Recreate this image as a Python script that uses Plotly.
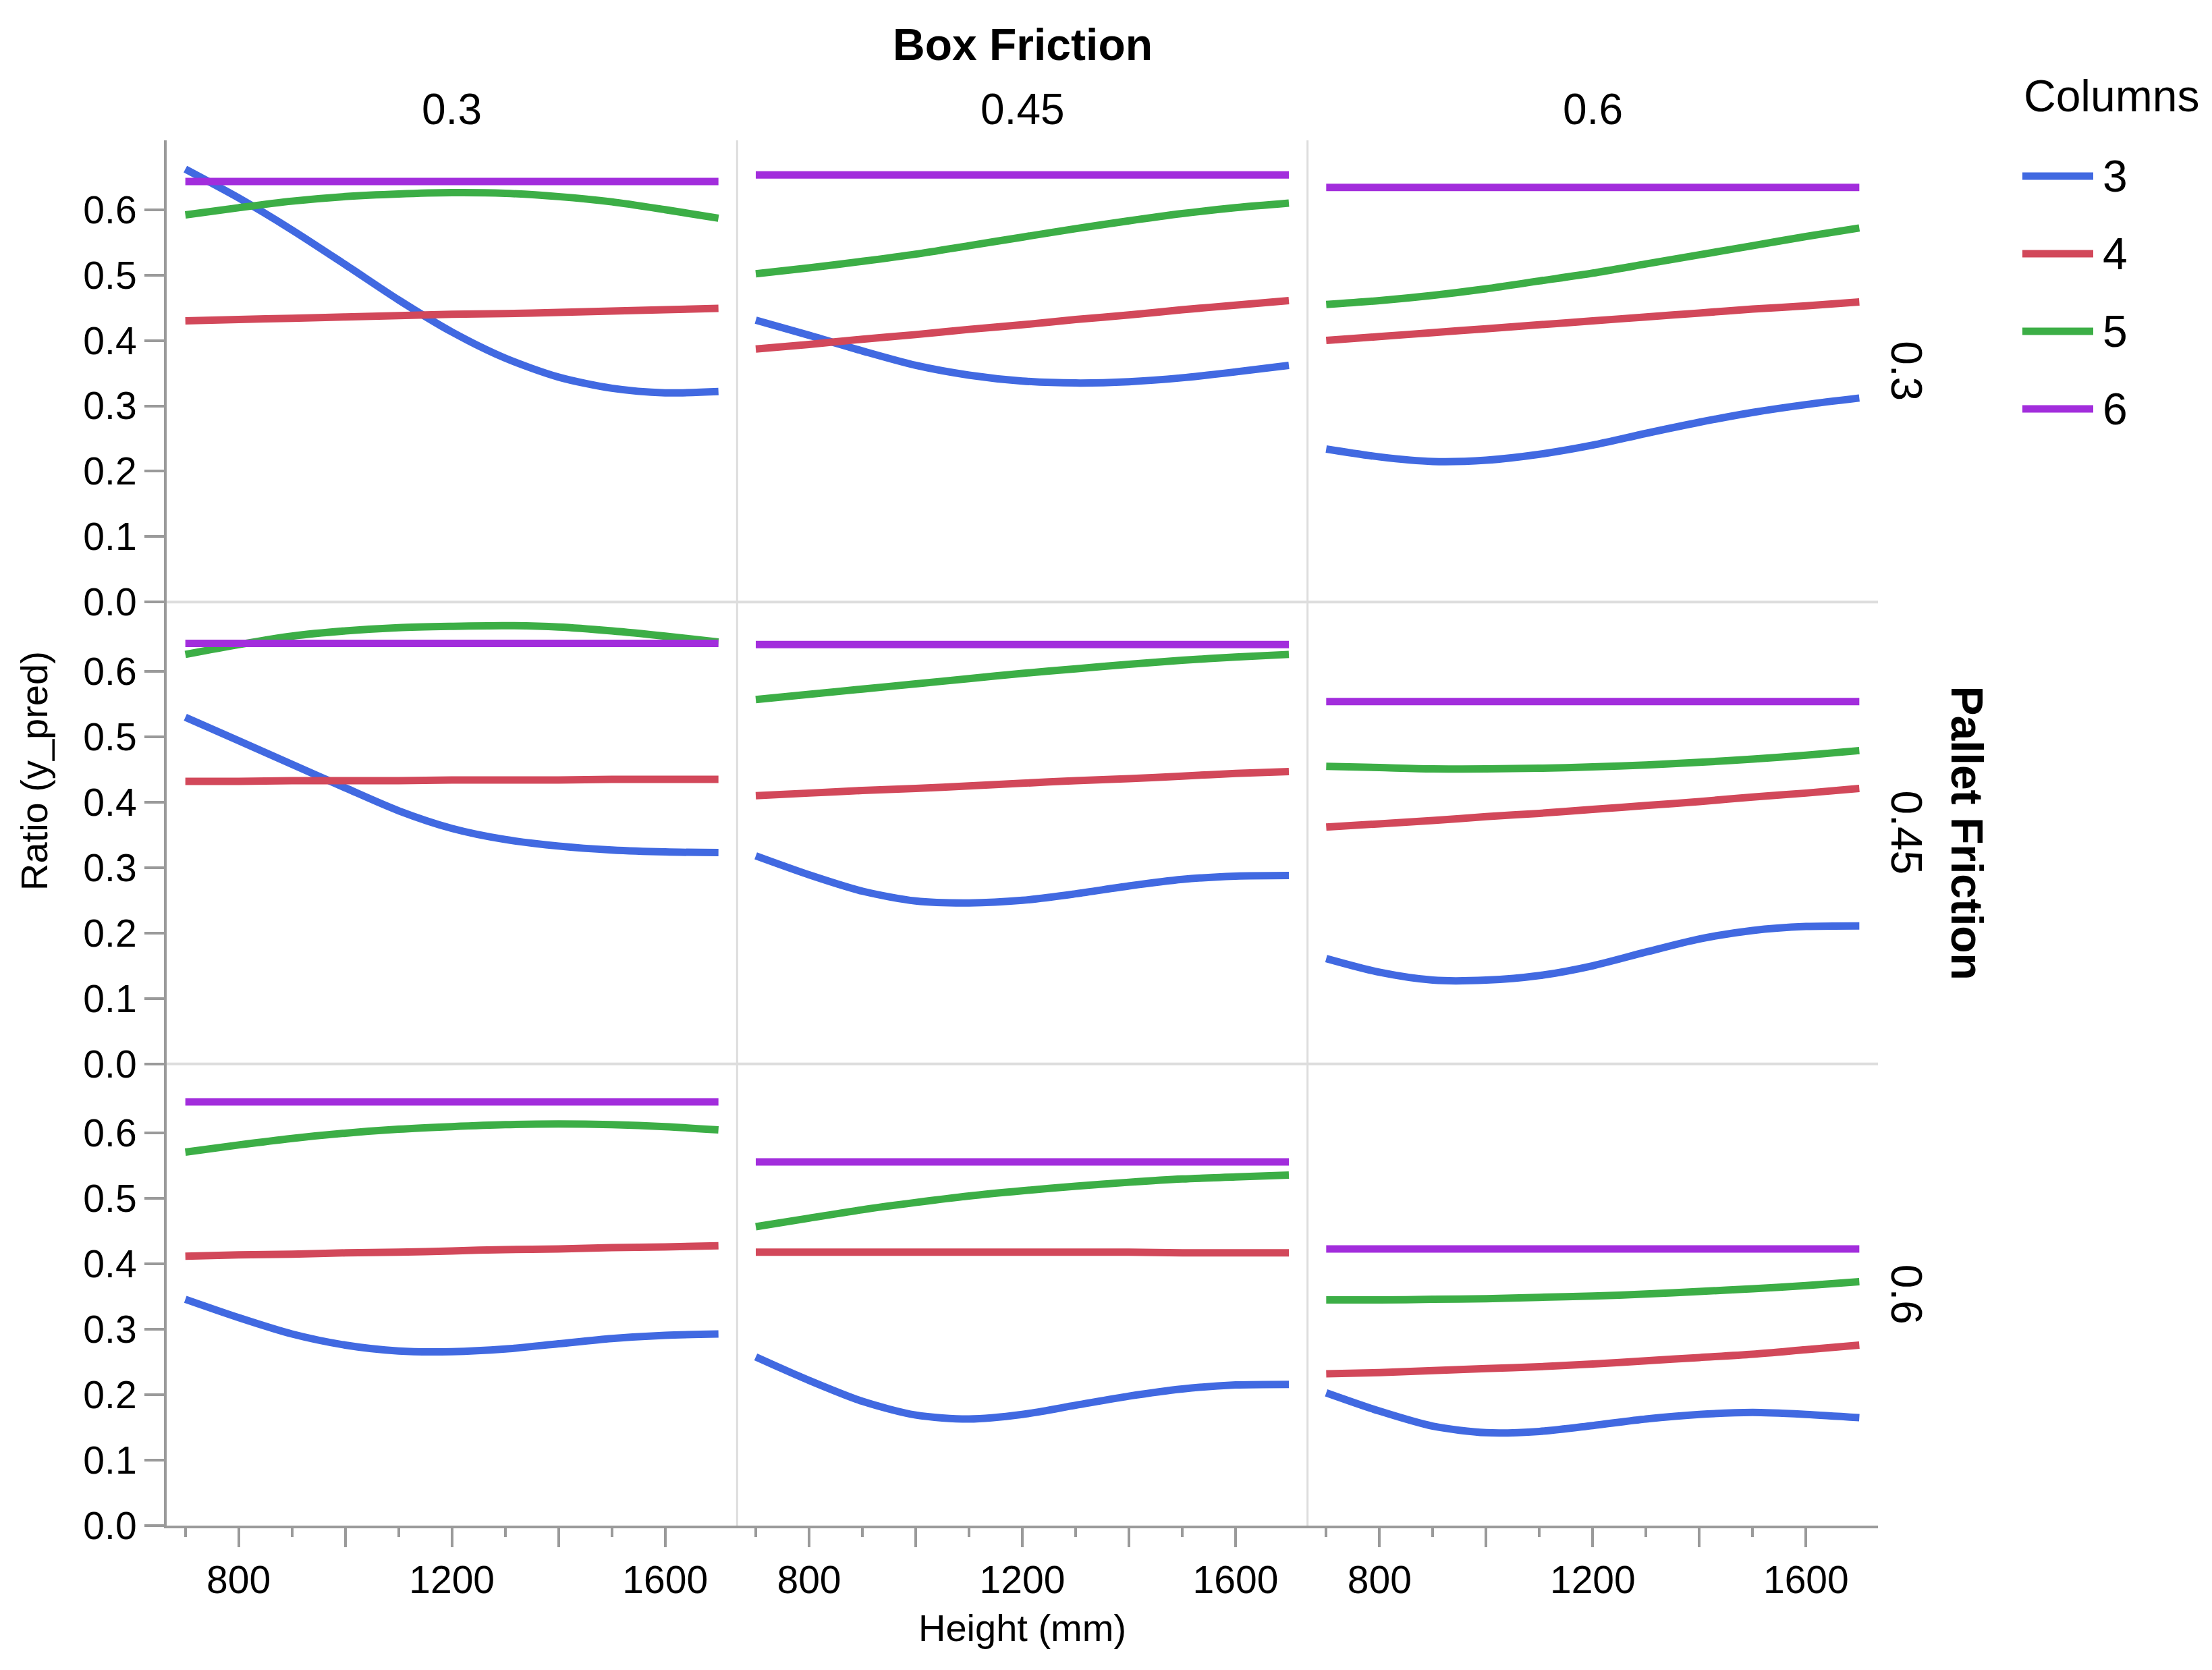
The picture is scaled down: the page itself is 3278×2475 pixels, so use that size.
import plotly.graph_objects as go

# ---------------- data ----------------
heights = [700, 800, 900, 1000, 1100, 1200, 1300, 1400, 1500, 1600, 1700]
box_levels = ["0.3", "0.45", "0.6"]
pallet_levels = ["0.3", "0.45", "0.6"]
column_names = ["3", "4", "5", "6"]
column_colors = ["#4169e1", "#d2485a", "#3cae46", "#a22ddc"]

# Pallet 0.3
p03_b03 = {
    "3": [0.662, 0.618, 0.569, 0.516, 0.462, 0.413, 0.373, 0.344, 0.327, 0.320, 0.322],
    "4": [0.430, 0.432, 0.434, 0.436, 0.438, 0.440, 0.441, 0.443, 0.445, 0.447, 0.449],
    "5": [0.592, 0.603, 0.613, 0.620, 0.624, 0.626, 0.625, 0.620, 0.612, 0.600, 0.587],
    "6": [0.643, 0.643, 0.643, 0.643, 0.643, 0.643, 0.643, 0.643, 0.643, 0.643, 0.643],
}
p03_b045 = {
    "3": [0.431, 0.408, 0.384, 0.362, 0.347, 0.338, 0.335, 0.337, 0.343, 0.352, 0.362],
    "4": [0.387, 0.394, 0.402, 0.409, 0.417, 0.424, 0.432, 0.439, 0.447, 0.454, 0.461],
    "5": [0.502, 0.511, 0.521, 0.532, 0.545, 0.558, 0.571, 0.583, 0.594, 0.603, 0.610],
    "6": [0.653, 0.653, 0.653, 0.653, 0.653, 0.653, 0.653, 0.653, 0.653, 0.653, 0.653],
}
p03_b06 = {
    "3": [0.234, 0.222, 0.215, 0.217, 0.226, 0.240, 0.258, 0.275, 0.290, 0.302, 0.312],
    "4": [0.400, 0.406, 0.412, 0.418, 0.424, 0.430, 0.436, 0.442, 0.448, 0.453, 0.459],
    "5": [0.455, 0.461, 0.469, 0.479, 0.491, 0.503, 0.517, 0.531, 0.545, 0.559, 0.572],
    "6": [0.634, 0.634, 0.634, 0.634, 0.634, 0.634, 0.634, 0.634, 0.634, 0.634, 0.634],
}
# Pallet 0.45
p045_b03 = {
    "3": [0.530, 0.494, 0.458, 0.422, 0.387, 0.360, 0.343, 0.333, 0.327, 0.324, 0.323],
    "4": [0.432, 0.432, 0.433, 0.433, 0.433, 0.434, 0.434, 0.434, 0.435, 0.435, 0.435],
    "5": [0.626, 0.641, 0.654, 0.662, 0.667, 0.669, 0.670, 0.668, 0.662, 0.654, 0.645],
    "6": [0.643, 0.643, 0.643, 0.643, 0.643, 0.643, 0.643, 0.643, 0.643, 0.643, 0.643],
}
p045_b045 = {
    "3": [0.318, 0.289, 0.264, 0.249, 0.246, 0.250, 0.260, 0.272, 0.282, 0.287, 0.288],
    "4": [0.410, 0.414, 0.418, 0.421, 0.425, 0.429, 0.433, 0.436, 0.440, 0.444, 0.447],
    "5": [0.557, 0.565, 0.573, 0.581, 0.589, 0.597, 0.604, 0.611, 0.617, 0.622, 0.626],
    "6": [0.641, 0.641, 0.641, 0.641, 0.641, 0.641, 0.641, 0.641, 0.641, 0.641, 0.641],
}
p045_b06 = {
    "3": [0.161, 0.140, 0.128, 0.128, 0.135, 0.150, 0.171, 0.191, 0.204, 0.210, 0.211],
    "4": [0.362, 0.367, 0.372, 0.378, 0.383, 0.389, 0.395, 0.401, 0.408, 0.414, 0.421],
    "5": [0.455, 0.453, 0.451, 0.451, 0.452, 0.454, 0.457, 0.461, 0.466, 0.472, 0.479],
    "6": [0.554, 0.554, 0.554, 0.554, 0.554, 0.554, 0.554, 0.554, 0.554, 0.554, 0.554],
}
# Pallet 0.6
p06_b03 = {
    "3": [0.346, 0.318, 0.293, 0.276, 0.267, 0.266, 0.270, 0.278, 0.286, 0.291, 0.293],
    "4": [0.412, 0.414, 0.415, 0.417, 0.418, 0.420, 0.422, 0.423, 0.425, 0.426, 0.428],
    "5": [0.571, 0.582, 0.592, 0.600, 0.606, 0.610, 0.613, 0.614, 0.613, 0.610, 0.605],
    "6": [0.648, 0.648, 0.648, 0.648, 0.648, 0.648, 0.648, 0.648, 0.648, 0.648, 0.648],
}
p06_b045 = {
    "3": [0.258, 0.222, 0.190, 0.169, 0.163, 0.170, 0.184, 0.198, 0.209, 0.215, 0.216],
    "4": [0.418, 0.418, 0.418, 0.418, 0.418, 0.418, 0.418, 0.418, 0.417, 0.417, 0.417],
    "5": [0.457, 0.470, 0.483, 0.494, 0.504, 0.512, 0.519, 0.525, 0.530, 0.533, 0.536],
    "6": [0.556, 0.556, 0.556, 0.556, 0.556, 0.556, 0.556, 0.556, 0.556, 0.556, 0.556],
}
p06_b06 = {
    "3": [0.203, 0.175, 0.152, 0.142, 0.144, 0.153, 0.163, 0.170, 0.173, 0.170, 0.165],
    "4": [0.232, 0.234, 0.237, 0.240, 0.243, 0.247, 0.252, 0.257, 0.262, 0.269, 0.276],
    "5": [0.345, 0.345, 0.346, 0.347, 0.349, 0.351, 0.354, 0.358, 0.362, 0.367, 0.373],
    "6": [0.423, 0.423, 0.423, 0.423, 0.423, 0.423, 0.423, 0.423, 0.423, 0.423, 0.423],
}

panels = [
    [p03_b03, p03_b045, p03_b06],
    [p045_b03, p045_b045, p045_b06],
    [p06_b03, p06_b045, p06_b06],
]

y_ticks = [0.0, 0.1, 0.2, 0.3, 0.4, 0.5, 0.6]
y_ticktext = ["0.0", "0.1", "0.2", "0.3", "0.4", "0.5", "0.6"]
x_major = [800, 1000, 1200, 1400, 1600]
x_major_text = ["800", "", "1200", "", "1600"]
x_minor = [700, 900, 1100, 1300, 1500]

# ---------------- layout geometry ----------------
# The page body has an 8px default margin, so the figure is offset by OFF px.
OFF = 8
W, H = 3278 - OFF, 2475 - OFF
ML, MR, MT, MB = 247 - OFF, 495, 208 - OFF, 214
PW = W - ML - MR
PH = H - MT - MB
FONT = "Liberation Sans, Arial, Helvetica, sans-serif"
AXIS_GREY = "#9a9a9a"
SEP_GREY = "#dddddd"
LINE_W = 11


def px(xpage):
    return (xpage - OFF - ML) / PW


def py(ypage):
    return (H - MB - (ypage - OFF)) / PH


fig = go.Figure()

for r in range(3):
    for c in range(3):
        idx = r * 3 + c + 1
        xname = "x" if idx == 1 else f"x{idx}"
        yname = "y" if idx == 1 else f"y{idx}"
        data = panels[r][c]
        for name, color in zip(column_names, column_colors):
            fig.add_trace(go.Scatter(
                x=heights, y=data[name], mode="lines", name=name,
                legendgroup=name, showlegend=False,
                line=dict(color=color, width=LINE_W, shape="spline", smoothing=0.8),
                xaxis=xname, yaxis=yname, hoverinfo="skip",
            ))
        xa = dict(
            domain=[c / 3, (c + 1) / 3], anchor=yname, range=[665, 1735],
            showgrid=False, zeroline=False, fixedrange=True,
        )
        if r == 2:
            xa.update(
                showline=True, linecolor=AXIS_GREY, linewidth=4,
                ticks="outside", ticklen=28, tickwidth=4, tickcolor=AXIS_GREY,
                tickmode="array", tickvals=x_major, ticktext=x_major_text,
                tickfont=dict(family=FONT, size=57, color="#000"),
                minor=dict(ticks="outside", ticklen=13, tickwidth=4, tickcolor=AXIS_GREY,
                           tickmode="array", tickvals=x_minor, showgrid=False),
            )
        else:
            xa.update(showline=False, ticks="", showticklabels=False)
        ya = dict(
            domain=[1 - (r + 1) / 3, 1 - r / 3], anchor=xname, range=[0, 0.706],
            showgrid=False, zeroline=False, fixedrange=True,
        )
        if c == 0:
            ya.update(
                showline=True, linecolor=AXIS_GREY, linewidth=4,
                ticks="outside", ticklen=29, tickwidth=4, tickcolor=AXIS_GREY,
                tickmode="array", tickvals=y_ticks, ticktext=y_ticktext,
                tickfont=dict(family=FONT, size=57, color="#000"),
            )
        else:
            ya.update(showline=False, ticks="", showticklabels=False)
        fig.layout[("xaxis" if idx == 1 else f"xaxis{idx}")] = xa
        fig.layout[("yaxis" if idx == 1 else f"yaxis{idx}")] = ya

shapes = []
for xb in [1, 2]:
    shapes.append(dict(type="line", xref="paper", yref="paper", x0=xb / 3, x1=xb / 3,
                       y0=0, y1=1, line=dict(color=SEP_GREY, width=3), layer="below"))
for yb in [1, 2]:
    shapes.append(dict(type="line", xref="paper", yref="paper", x0=0, x1=1,
                       y0=yb / 3, y1=yb / 3, line=dict(color=SEP_GREY, width=4), layer="below"))

annotations = []
annotations.append(dict(text="<b>Box Friction</b>", xref="paper", yref="paper",
                        x=0.5, y=py(66), xanchor="center", yanchor="middle", showarrow=False,
                        font=dict(family=FONT, size=66, color="#000")))
for c, lab in enumerate(box_levels):
    annotations.append(dict(text=lab, xref="paper", yref="paper", x=(c + 0.5) / 3, y=py(162),
                            xanchor="center", yanchor="middle", showarrow=False,
                            font=dict(family=FONT, size=64, color="#000")))
for r, lab in enumerate(pallet_levels):
    annotations.append(dict(text=lab, xref="paper", yref="paper", x=px(2825), y=1 - (r + 0.5) / 3,
                            xanchor="center", yanchor="middle", showarrow=False, textangle=90,
                            font=dict(family=FONT, size=64, color="#000")))
annotations.append(dict(text="<b>Pallet Friction</b>", xref="paper", yref="paper",
                        x=px(2915), y=0.5, xanchor="center", yanchor="middle", showarrow=False,
                        textangle=90, font=dict(family=FONT, size=66, color="#000")))
annotations.append(dict(text="Ratio (y_pred)", xref="paper", yref="paper", x=px(50), y=py(1143),
                        xanchor="center", yanchor="middle", showarrow=False, textangle=-90,
                        font=dict(family=FONT, size=56, color="#000")))
annotations.append(dict(text="Height (mm)", xref="paper", yref="paper", x=0.5, y=py(2412),
                        xanchor="center", yanchor="middle", showarrow=False,
                        font=dict(family=FONT, size=56, color="#000")))
annotations.append(dict(text="Columns", xref="paper", yref="paper", x=px(2997), y=py(142),
                        xanchor="left", yanchor="middle", showarrow=False,
                        font=dict(family=FONT, size=66, color="#000")))
legend_y = [261, 376, 491, 606]
for name, color, ly in zip(column_names, column_colors, legend_y):
    shapes.append(dict(type="line", xref="paper", yref="paper", x0=px(2997), x1=px(3102),
                       y0=py(ly), y1=py(ly), line=dict(color=color, width=LINE_W)))
    annotations.append(dict(text=name, xref="paper", yref="paper", x=px(3114), y=py(ly),
                            xanchor="left", yanchor="middle", showarrow=False,
                            font=dict(family=FONT, size=66, color="#000")))

fig.update_layout(
    width=W, height=H,
    margin=dict(l=ML, r=MR, t=MT, b=MB, pad=0),
    paper_bgcolor="white", plot_bgcolor="white",
    font=dict(family=FONT, color="#000"),
    showlegend=False,
    shapes=shapes, annotations=annotations,
)

fig.write_html("out.html")
